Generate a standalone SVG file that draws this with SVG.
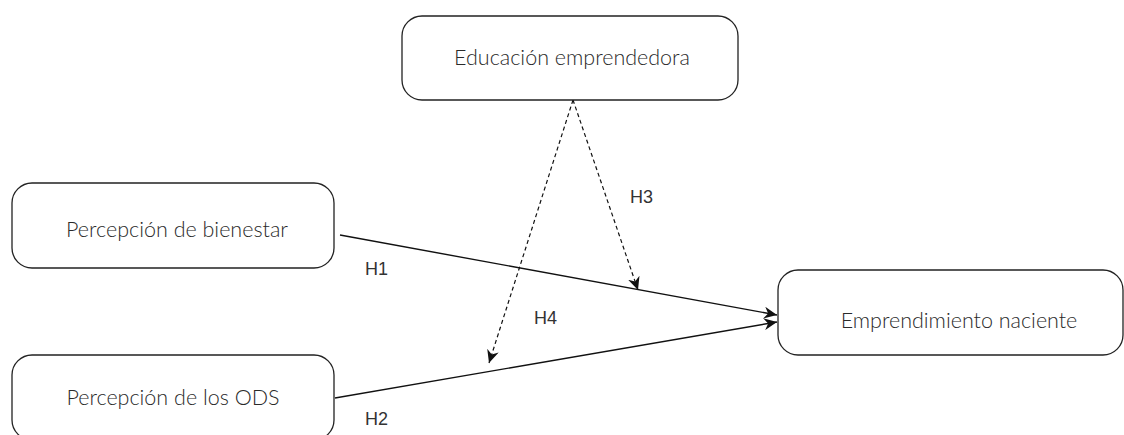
<svg xmlns="http://www.w3.org/2000/svg" width="1124" height="435" viewBox="0 0 1124 435">
<style>
.box{fill:#fff;stroke:#222;stroke-width:1.3}
.lbl{font-family:Lato,"Liberation Sans",sans-serif;font-size:21.5px;font-weight:300;fill:#2a2a2a;text-anchor:middle}
.h{font-family:"Liberation Sans",Arial,sans-serif;font-size:18px;fill:#333}
.solid{fill:none;stroke:#111;stroke-width:1.4}
.dash{fill:none;stroke:#111;stroke-width:1.2;stroke-dasharray:4 3}
</style>
<defs>
<marker id="arr" markerUnits="userSpaceOnUse" markerWidth="14" markerHeight="12" refX="13" refY="6" orient="auto">
<path d="M0,0 L13,6 L0,12 L4,6 z" fill="#111"/>
</marker>
</defs>
<rect width="1124" height="435" fill="#fff"/>
<g id="connectors">
<line class="solid" x1="340" y1="235" x2="777" y2="315" marker-end="url(#arr)"/>
<line class="solid" x1="335" y1="398" x2="777" y2="322" marker-end="url(#arr)"/>
<line class="dash" x1="573" y1="100" x2="638" y2="290" marker-end="url(#arr)"/>
<line class="dash" x1="573" y1="100" x2="489" y2="363" marker-end="url(#arr)"/>
<text class="h" x="365" y="275">H1</text>
<text class="h" x="365" y="425">H2</text>
<text class="h" x="630" y="203">H3</text>
<text class="h" x="534" y="324">H4</text>
</g>
<g id="educacion">
<rect class="box" x="402" y="16" width="336" height="84" rx="20"/>
<text class="lbl" x="572" y="65">Educación emprendedora</text>
</g>
<g id="bienestar">
<rect class="box" x="12" y="183" width="322" height="85" rx="20"/>
<text class="lbl" x="177" y="237">Percepción de bienestar</text>
</g>
<g id="ods">
<rect class="box" x="12" y="355" width="322" height="85" rx="20"/>
<text class="lbl" x="173" y="405">Percepción de los ODS</text>
</g>
<g id="emprendimiento">
<rect class="box" x="778" y="270" width="345" height="85" rx="20"/>
<text class="lbl" x="959" y="328">Emprendimiento naciente</text>
</g>
</svg>
